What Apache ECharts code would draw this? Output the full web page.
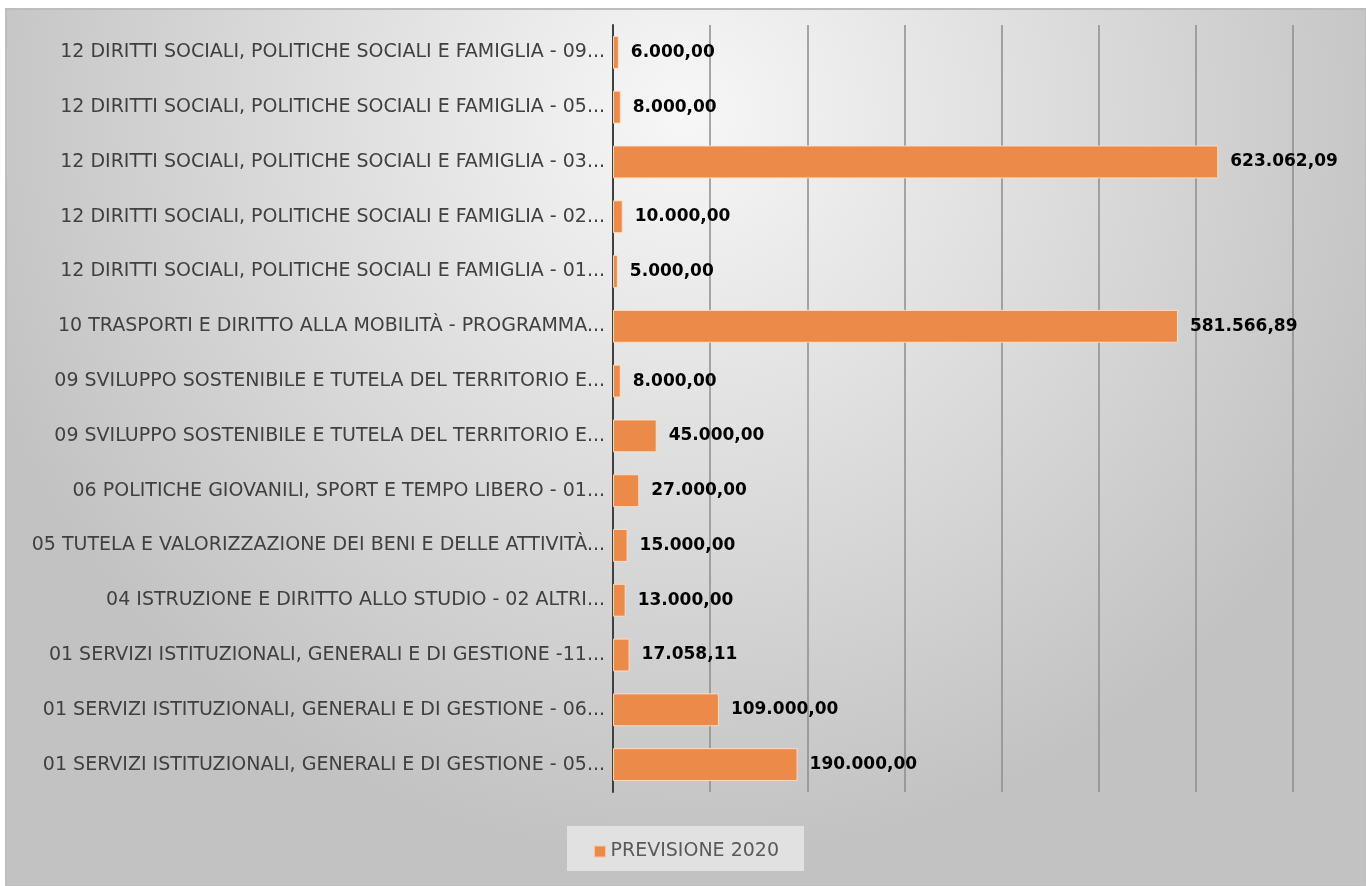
<!DOCTYPE html>
<html>
<head>
<meta charset="utf-8">
<script src="https://cdn.jsdelivr.net/npm/echarts@6/dist/echarts.min.js"></script>
<style>
  html, body { margin: 0; padding: 0; background: #fff; }
  #main { width: 1366px; height: 886px; }
</style>
</head>
<body>
<div id="main"></div>
<script>
// categorie (dall'alto verso il basso)
var categorie = [
    '12 DIRITTI SOCIALI, POLITICHE SOCIALI E FAMIGLIA - 09...',
    '12 DIRITTI SOCIALI, POLITICHE SOCIALI E FAMIGLIA - 05...',
    '12 DIRITTI SOCIALI, POLITICHE SOCIALI E FAMIGLIA - 03...',
    '12 DIRITTI SOCIALI, POLITICHE SOCIALI E FAMIGLIA - 02...',
    '12 DIRITTI SOCIALI, POLITICHE SOCIALI E FAMIGLIA - 01...',
    '10 TRASPORTI E DIRITTO ALLA MOBILITÀ - PROGRAMMA...',
    '09 SVILUPPO SOSTENIBILE E TUTELA DEL TERRITORIO E...',
    '09 SVILUPPO SOSTENIBILE E TUTELA DEL TERRITORIO E...',
    '06 POLITICHE GIOVANILI, SPORT E TEMPO LIBERO - 01...',
    '05 TUTELA E VALORIZZAZIONE DEI BENI E DELLE ATTIVITÀ...',
    '04 ISTRUZIONE E DIRITTO ALLO STUDIO - 02 ALTRI...',
    '01 SERVIZI ISTITUZIONALI, GENERALI E DI GESTIONE -11...',
    '01 SERVIZI ISTITUZIONALI, GENERALI E DI GESTIONE - 06...',
    '01 SERVIZI ISTITUZIONALI, GENERALI E DI GESTIONE - 05...'
];

// PREVISIONE 2020
var previsione2020 = [
    6000, 8000, 623062.09, 10000, 5000, 581566.89, 8000,
    45000, 27000, 15000, 13000, 17058.11, 109000, 190000
];

var nomeSerie = 'PREVISIONE 2020';

var fontTesto = "'DejaVu Sans', sans-serif";

// formato italiano: 623.062,09
function formatIt(v) {
    var parti = v.toFixed(2).split('.');
    var intero = parti[0].replace(/\B(?=(\d{3})+(?!\d))/g, '.');
    return intero + ',' + parti[1];
}

var myChart = echarts.init(document.getElementById('main'));

var option = {
    backgroundColor: '#ffffff',
    animation: false,
    graphic: [{
        type: 'rect',
        z: -10,
        shape: { x: 6, y: 9, width: 1360, height: 877 },
        style: {
            fill: new echarts.graphic.RadialGradient(0.5, 0.12, 0.85, [
                { offset: 0, color: '#f7f7f7' },
                { offset: 1, color: '#c2c2c2' }
            ]),
            stroke: '#bdbdbd',
            lineWidth: 2
        }
    }, {
        type: 'rect',
        z: -5,
        shape: { x: 567, y: 826, width: 237, height: 45 },
        style: { fill: 'rgba(235,235,235,0.75)' }
    }],
    legend: {
        data: [nomeSerie],
        left: 589,
        top: 837,
        itemWidth: 11,
        itemHeight: 11,
        itemGap: 4,
        icon: 'rect',
        itemStyle: { borderColor: '#f6c3a0', borderWidth: 1 },
        textStyle: {
            fontFamily: fontTesto,
            fontSize: 19,
            color: '#595959'
        }
    },
    grid: {
        left: 613,
        right: 73,
        top: 25,
        bottom: 94,
        containLabel: false
    },
    xAxis: {
        type: 'value',
        min: 0,
        max: 700000,
        interval: 100000,
        axisLabel: { show: false },
        axisLine: { show: false },
        axisTick: { show: false },
        splitLine: {
            lineStyle: { color: '#8c8c8c', width: 1.5 }
        }
    },
    yAxis: {
        type: 'category',
        inverse: true,
        data: categorie,
        axisTick: { show: false },
        axisLine: {
            lineStyle: { color: '#404040', width: 2 }
        },
        axisLabel: {
            margin: 8,
            fontFamily: fontTesto,
            fontSize: 19,
            color: '#404040'
        }
    },
    series: [{
        name: nomeSerie,
        type: 'bar',
        data: previsione2020,
        barCategoryGap: '40%',
        itemStyle: {
            color: '#ec8a49',
            borderColor: 'rgba(255,225,200,0.9)',
            borderWidth: 1
        },
        label: {
            show: true,
            position: 'right',
            distance: 12,
            fontFamily: fontTesto,
            fontWeight: 'bold',
            fontSize: 17,
            color: '#000000',
            formatter: function (p) { return formatIt(p.value); }
        }
    }]
};

myChart.setOption(option);
</script>
</body>
</html>
